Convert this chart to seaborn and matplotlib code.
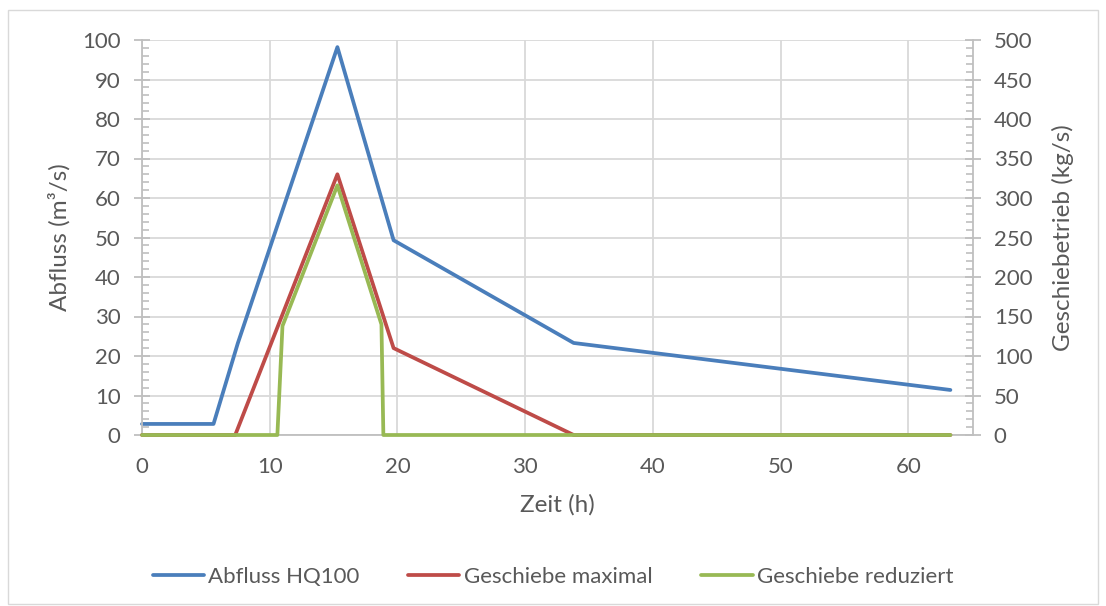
import matplotlib
matplotlib.use("Agg")
import matplotlib.pyplot as plt
import matplotlib.patches as mpatches
from matplotlib.ticker import MultipleLocator
import pandas as pd
import seaborn as sns

# Hydrograph of the HQ100 flood and the two bedload scenarios
zeit_abfluss = [0, 5.6, 7.5, 15.3, 19.7, 33.8, 63.3]
abfluss_hq100 = [2.8, 2.8, 23.2, 98.2, 49.3, 23.3, 11.4]

zeit_maximal = [0, 7.3, 15.3, 19.7, 33.8, 63.3]
geschiebe_maximal = [0, 0, 330, 110, 0, 0]

zeit_reduziert = [0, 10.6, 11.0, 15.3, 18.75, 18.9, 63.3]
geschiebe_reduziert = [0, 0, 138, 316, 140, 0, 0]

labels = ["Abfluss HQ100", "Geschiebe maximal", "Geschiebe reduziert"]
colors = ["#4a7ebb", "#be4b48", "#98b954"]

sns.set_theme(style="white")
plt.rcParams["font.family"] = ["Lato", "DejaVu Sans"]

text_color = "#595959"
grid_color = "#d9d9d9"
axis_color = "#bfbfbf"
tick_size = 16
label_size = 17.5
lw = 2.7

fig = plt.figure(figsize=(11.06, 6.06), dpi=100)
fig.patch.set_facecolor("white")
fig.patches.append(mpatches.Rectangle((8 / 1106, 2 / 606), 1090 / 1106, 594 / 606,
                                      transform=fig.transFigure, fill=False,
                                      edgecolor="#d9d9d9", linewidth=1.0))

ax = fig.add_axes([142 / 1106, 1 - 435 / 606, 831 / 1106, 395 / 606])
ax2 = ax.twinx()

df_q = pd.DataFrame({"Zeit": zeit_abfluss, "Wert": abfluss_hq100})
df_max = pd.DataFrame({"Zeit": zeit_maximal, "Wert": geschiebe_maximal})
df_red = pd.DataFrame({"Zeit": zeit_reduziert, "Wert": geschiebe_reduziert})

sns.lineplot(data=df_q, x="Zeit", y="Wert", ax=ax, color=colors[0], linewidth=lw,
             sort=False, label=labels[0], legend=False, clip_on=False)
sns.lineplot(data=df_max, x="Zeit", y="Wert", ax=ax2, color=colors[1], linewidth=lw,
             sort=False, label=labels[1], legend=False, clip_on=False)
sns.lineplot(data=df_red, x="Zeit", y="Wert", ax=ax2, color=colors[2], linewidth=lw,
             sort=False, label=labels[2], legend=False, clip_on=False)

ax.set_xlim(0, 65.07)
ax.set_ylim(0, 100)
ax2.set_ylim(0, 500)

ax.xaxis.set_major_locator(MultipleLocator(10))
ax.xaxis.set_minor_locator(MultipleLocator(2))
ax.yaxis.set_major_locator(MultipleLocator(10))
ax.yaxis.set_minor_locator(MultipleLocator(2))
ax2.yaxis.set_major_locator(MultipleLocator(50))
ax2.yaxis.set_minor_locator(MultipleLocator(10))

ax.grid(True, which="major", color=grid_color, linewidth=1.3)
ax.set_axisbelow(True)
ax2.grid(False)

for a in (ax, ax2):
    a.spines["top"].set_visible(False)
    for s in ("left", "right", "bottom"):
        a.spines[s].set_color(axis_color)
        a.spines[s].set_linewidth(1.3)
ax.spines["right"].set_visible(False)
ax2.spines["left"].set_visible(False)
ax2.spines["bottom"].set_visible(False)

tick_kw = dict(colors=axis_color, labelcolor=text_color, labelsize=tick_size)
ax.tick_params(axis="y", which="major", direction="inout", length=12, width=1.3, pad=9.5, **tick_kw)
ax.tick_params(axis="x", which="major", direction="inout", length=12, width=1.3, pad=10, **tick_kw)
ax.tick_params(axis="both", which="minor", direction="in", length=5, width=1.2, colors=axis_color)
ax2.tick_params(axis="y", which="major", direction="inout", length=12, width=1.3, pad=9, **tick_kw)
ax2.tick_params(axis="y", which="minor", direction="in", length=5, width=1.2, colors=axis_color)

ax.set_xlabel("Zeit (h)", fontsize=label_size, color=text_color, labelpad=12)
ax.set_ylabel("Abfluss (m³/s)", fontsize=label_size, color=text_color, labelpad=8)
ax2.set_ylabel("Geschiebetrieb (kg/s)", fontsize=label_size, color=text_color, labelpad=14)

handles = ax.get_lines()[:1] + ax2.get_lines()[:2]
leg = fig.legend(handles, labels, loc="center", bbox_to_anchor=(0.5, 1 - 577 / 606),
                 ncol=3, frameon=False, fontsize=tick_size, handlelength=2.3,
                 handletextpad=0.2, columnspacing=2.2)
for t in leg.get_texts():
    t.set_color(text_color)

fig.savefig("out.png", dpi=100, facecolor="white")
